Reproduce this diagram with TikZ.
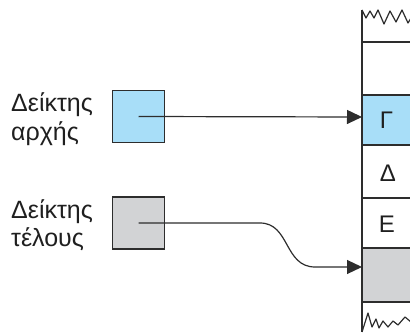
\documentclass[tikz,border=0pt]{standalone}
\usepackage{fontspec}
\setmainfont{Liberation Sans}
\usetikzlibrary{arrows.meta}
\definecolor{lblue}{RGB}{168,222,248}
\definecolor{lgray}{RGB}{210,211,213}
\definecolor{edge}{RGB}{45,45,45}
\begin{document}
\begin{tikzpicture}[x=1pt,y=-1pt,
  ptr/.style={draw=edge,line width=1.5pt,minimum width=52pt,minimum height=52pt,inner sep=0pt},
  cellbox/.style={draw=edge,line width=1.3pt},
  lab/.style={font=\fontsize{25}{28.5}\selectfont,align=left,anchor=west,inner sep=0pt,text=black!88},
  let/.style={font=\fontsize{24}{24}\selectfont,inner sep=0pt,text=black!88},
  conn/.style={draw=edge,line width=1.2pt,-{Triangle[length=15pt,width=14pt]}}]
\useasboundingbox (0,0) rectangle (410,334);
% column
\fill[lblue] (362,95) rectangle (412,145);
\fill[lgray] (362,248) rectangle (412,301);
\draw[cellbox] (362,10) -- (362,332);
\foreach \yy in {42,95,145,198,248,302} \draw[cellbox] (362,\yy) -- (412,\yy);
\draw[edge,line width=1.2pt,line join=round] (362,10) -- (366,18) -- (370,11) -- (374,18) -- (378,10) -- (384,24) -- (390,11) -- (396,22) -- (402,10) -- (408,23) -- (411,18);
\draw[edge,line width=1.2pt,line join=round] (362,332) -- (368,313) -- (372,327) -- (376,319) -- (379,328) -- (383,321) -- (388,327) -- (393,321) -- (398,325) -- (405,317) -- (411,322);
\node[let] (g) at (386.5,120) {Γ};
\node[let] (d) at (388,173) {Δ};
\node[let] (e) at (387,224) {Ε};
\coordinate (t1) at (362,117);
\coordinate (t2) at (362,267);
% pointers
\node[ptr,fill=lblue] (b1) at (138.5,116.5) {};
\node[ptr,fill=lgray] (b2) at (138.5,223) {};
\node[lab] (l1) at (11,119) {Δείκτης\\αρχής};
\node[lab] (l2) at (11,225) {Δείκτης\\τέλους};
\draw[conn] (b1.center) -- (t1);
\draw[conn] (b2.center) -- (260,223) .. controls (290,223) and (284,267) .. (315,267) -- (t2);
\end{tikzpicture}
\end{document}
